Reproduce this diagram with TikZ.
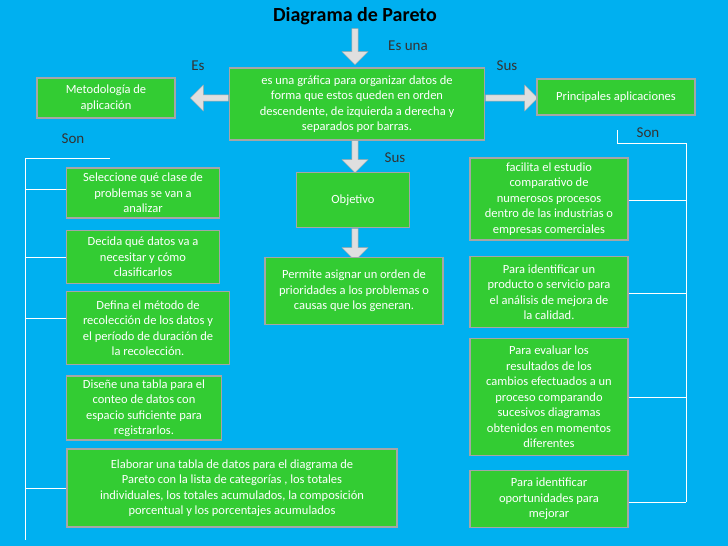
\documentclass[tikz,border=0pt]{standalone}
\usepackage{fontspec}
\setmainfont{Carlito}
\usetikzlibrary{shapes.arrows}
\definecolor{bgblue}{HTML}{00B0F0}
\definecolor{boxgreen}{HTML}{33CC33}
\tikzset{green box/.style={draw=gray!70,line width=1.5pt,fill=boxgreen,text=white,font=\fontsize{12.5}{15.5}\selectfont,align=center,inner sep=2pt},
  gray arrow/.style={single arrow,draw=gray!70,fill=gray!25!white,single arrow head extend=7pt,minimum height=#1,minimum width=26pt,inner sep=2pt},
  link/.style={draw=white,line width=0.8pt},
  tag/.style={font=\fontsize{15}{18}\selectfont,text=black!80}}
\begin{document}
\begin{tikzpicture}[x=1pt,y=-1pt]
\fill[bgblue] (0,0) rectangle (728,546);
\useasboundingbox (0,0) rectangle (728,546);

\node[font=\fontsize{20}{24}\selectfont\bfseries] (title) at (355,16) {Diagrama de Pareto};
\node[gray arrow=36pt,shape border rotate=270] (a1) at (355,45) {};
\node[tag] (t1) at (408,46) {Es una};

% central
\node[green box,minimum width=255pt,minimum height=72pt] (def) at (357,104) {es una gráfica para organizar datos de\\forma que estos queden en orden\\descendente, de izquierda a derecha y\\separados por barras.};
\node[gray arrow=38pt,shape border rotate=180] (a2) at (211,98) {};
\node[tag] (t2) at (198,66) {Es};
\node[green box,minimum width=138pt,minimum height=40pt] (met) at (106,98) {Metodología de\\aplicación};
\node[gray arrow=52pt] (a3) at (510,98) {};
\node[tag] (t3) at (507,66) {Sus};
\node[green box,minimum width=158pt,minimum height=36pt] (apl) at (616,97) {Principales aplicaciones};
\node[tag] (t4) at (73,139) {Son};
\node[tag] (t5) at (648,133) {Son};
\node[gray arrow=32pt,shape border rotate=270] (a4) at (355,155) {};
\node[tag] (t6) at (395,158) {Sus};
\node[green box,minimum width=113pt,minimum height=55pt] (obj) at (353,200) {Objetivo};
\node[gray arrow=32pt,shape border rotate=270] (a5) at (355,243) {};
\node[green box,minimum width=178pt,minimum height=67pt] (per) at (354,291) {Permite asignar un orden de\\prioridades a los problemas o\\causas que los generan.};

% left column
\node[green box,minimum width=153pt,minimum height=50pt] (l1) at (143,193) {Seleccione qué clase de\\problemas se van a\\analizar};
\node[green box,minimum width=153pt,minimum height=53pt] (l2) at (143,257) {Decida qué datos va a\\necesitar y cómo\\clasificarlos};
\node[green box,minimum width=163pt,minimum height=73pt] (l3) at (148,328) {Defina el método de\\recolección de los datos y\\el período de duración de\\la recolección.};
\node[green box,minimum width=155pt,minimum height=64pt] (l4) at (144,408) {Diseñe una tabla para el\\conteo de datos con\\espacio suficiente para\\registrarlos.};
\node[green box,minimum width=330pt,minimum height=78pt] (l5) at (232,488) {Elaborar una tabla de datos para el diagrama de\\Pareto con la lista de categorías , los totales\\individuales, los totales acumulados, la composición\\porcentual y los porcentajes acumulados};

% right column
\node[green box,minimum width=158pt,minimum height=82pt] (r1) at (549,199) {facilita el estudio\\comparativo de\\numerosos procesos\\dentro de las industrias o\\empresas comerciales};
\node[green box,minimum width=158pt,minimum height=71pt] (r2) at (549,292) {Para identificar un\\producto o servicio para\\el análisis de mejora de\\la calidad.};
\node[green box,minimum width=158pt,minimum height=117pt] (r3) at (549,397) {Para evaluar los\\resultados de los\\cambios efectuados a un\\proceso comparando\\sucesivos diagramas\\obtenidos en momentos\\diferentes};
\node[green box,minimum width=158pt,minimum height=57pt] (r4) at (549,499) {Para identificar\\oportunidades para\\mejorar};

% brackets
\coordinate (lt) at (25,158);
\coordinate (lb) at (25,540);
\draw[link] (110,158) -- (lt) -- (lb);
\foreach \b/\y in {l1/189,l2/257,l3/318,l5/488}
  \draw[link] (25,\y) -- (\b.west |- 0,\y);
\coordinate (rt) at (686,143);
\draw[link] (617,130) -- (617,143) -- (rt) -- (686,502);
\foreach \b/\y in {r1/200,r2/293,r3/397,r4/502}
  \draw[link] (\b.east |- 0,\y) -- (686,\y);
\end{tikzpicture}
\end{document}
